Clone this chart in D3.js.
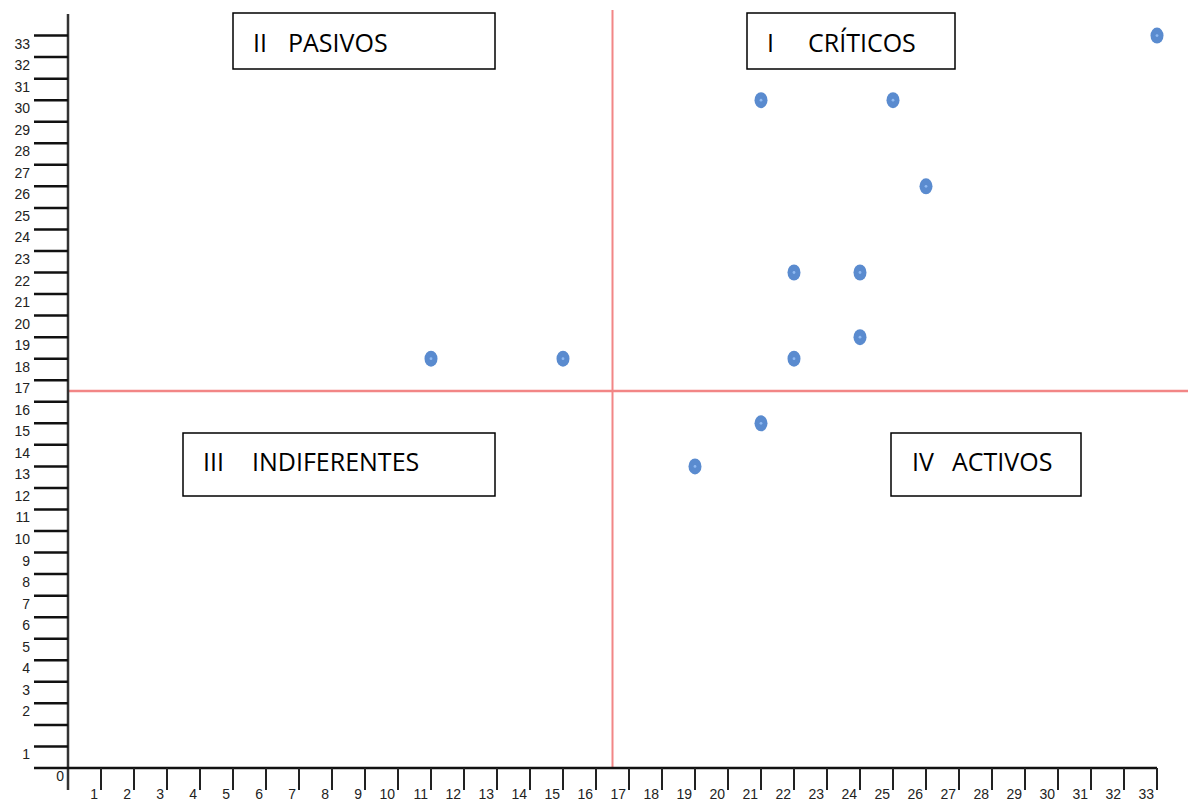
<!DOCTYPE html>
<html>
<head>
<meta charset="utf-8">
<script src="https://cdn.jsdelivr.net/npm/d3@7"></script>
<style>
  html, body { margin: 0; padding: 0; background: #fff; }
  svg { display: block; }
  .tick-label { font-family: "Liberation Sans", Arial, sans-serif; font-size: 14px; fill: #222; }
  .quad-label { font-family: "Open Sans", "Noto Sans", sans-serif; font-size: 25px; fill: #000; }
</style>
</head>
<body>
<svg id="chart" width="1188" height="803"></svg>
<script>
// influence (x) vs dependence (y) of each element
var xValues = [33, 21, 25, 26, 22, 24, 24, 22, 11, 15, 21, 19];
var yValues = [33, 30, 30, 26, 22, 22, 19, 18, 18, 18, 15, 13];

// axis ticks and their labels
var xTicks = d3.range(1, 34);
var xTickLabels = xTicks.map(String);
var yTicks = d3.range(0, 34);
var yLabelValues = [-1, 0].concat(d3.range(2, 34));
var yLabelTexts = ["0", "1"].concat(d3.range(2, 34).map(String));

// quadrant split
var xSplit = 16.5;
var ySplit = 16.5;

// quadrant names
var quadNumerals = ["II", "I", "III", "IV"];
var quadNames = ["PASIVOS", "CRÍTICOS", "INDIFERENTES", "ACTIVOS"];

var points = xValues.map(function (d, i) { return { x: d, y: yValues[i] }; });

var svg = d3.select("#chart");

var x = d3.scaleLinear().domain([0, 33]).range([68, 1157]);
var y = d3.scaleLinear().domain([-1, 34]).range([768, 14]);

// Red quadrant lines
svg.append("line")
    .attr("x1", x(xSplit)).attr("x2", x(xSplit))
    .attr("y1", 10).attr("y2", y(-1))
    .attr("stroke", "#f28686").attr("stroke-width", 2);

svg.append("line")
    .attr("x1", x(0)).attr("x2", 1188)
    .attr("y1", y(ySplit)).attr("y2", y(ySplit))
    .attr("stroke", "#f28686").attr("stroke-width", 2.5);

// Y axis
svg.append("line")
    .attr("x1", x(0)).attr("x2", x(0))
    .attr("y1", 14).attr("y2", 790)
    .attr("stroke", "#333").attr("stroke-width", 2.5);

svg.selectAll(".ytick")
    .data(yTicks)
    .enter().append("line")
    .attr("class", "ytick")
    .attr("x1", 34).attr("x2", x(0))
    .attr("y1", function (d) { return y(d); })
    .attr("y2", function (d) { return y(d); })
    .attr("stroke", "#111").attr("stroke-width", 2.5);

svg.selectAll(".ylabel")
    .data(yLabelValues)
    .enter().append("text")
    .attr("class", "tick-label")
    .attr("text-anchor", "end")
    .attr("x", function (d) { return d < 0 ? 64 : 30; })
    .attr("y", function (d) { return y(d) + 13; })
    .text(function (d, i) { return yLabelTexts[i]; });

// X axis
svg.append("line")
    .attr("x1", 34).attr("x2", x(33))
    .attr("y1", y(-1)).attr("y2", y(-1))
    .attr("stroke", "#111").attr("stroke-width", 2.5);

svg.selectAll(".xtick")
    .data(xTicks)
    .enter().append("line")
    .attr("class", "xtick")
    .attr("x1", function (d) { return x(d); })
    .attr("x2", function (d) { return x(d); })
    .attr("y1", y(-1)).attr("y2", 790)
    .attr("stroke", "#222").attr("stroke-width", 2);

svg.selectAll(".xlabel")
    .data(xTicks)
    .enter().append("text")
    .attr("class", "tick-label")
    .attr("text-anchor", "end")
    .attr("x", function (d) { return x(d) - 3; })
    .attr("y", 799)
    .text(function (d, i) { return xTickLabels[i]; });

// Quadrant boxes
var boxes = [
    { x: 233, y: 13, w: 262, h: 56, tx: 253, nx: 288, base: 52 },
    { x: 747, y: 13, w: 208, h: 56, tx: 767, nx: 808, base: 52 },
    { x: 183, y: 433, w: 312, h: 63, tx: 203, nx: 252, base: 471 },
    { x: 891, y: 433, w: 190, h: 63, tx: 912, nx: 952, base: 471 }
];

var quad = svg.selectAll(".quad")
    .data(boxes)
    .enter().append("g")
    .attr("class", "quad");

quad.append("rect")
    .attr("x", function (d) { return d.x; })
    .attr("y", function (d) { return d.y; })
    .attr("width", function (d) { return d.w; })
    .attr("height", function (d) { return d.h; })
    .attr("fill", "#fff")
    .attr("stroke", "#000").attr("stroke-width", 1.5);

quad.append("text")
    .attr("class", "quad-label")
    .attr("x", function (d) { return d.tx; })
    .attr("y", function (d) { return d.base; })
    .text(function (d, i) { return quadNumerals[i]; });

quad.append("text")
    .attr("class", "quad-label")
    .attr("x", function (d) { return d.nx; })
    .attr("y", function (d) { return d.base; })
    .text(function (d, i) { return quadNames[i]; });

// Points
var pt = svg.selectAll(".pt")
    .data(points)
    .enter().append("g")
    .attr("class", "pt")
    .attr("transform", function (d) { return "translate(" + x(d.x) + "," + y(d.y) + ")"; });

pt.append("ellipse")
    .attr("rx", 6.5).attr("ry", 8)
    .attr("fill", "#5a8bcf");

pt.append("circle")
    .attr("r", 1.4)
    .attr("fill", "#8fbaf2");
</script>
</body>
</html>
